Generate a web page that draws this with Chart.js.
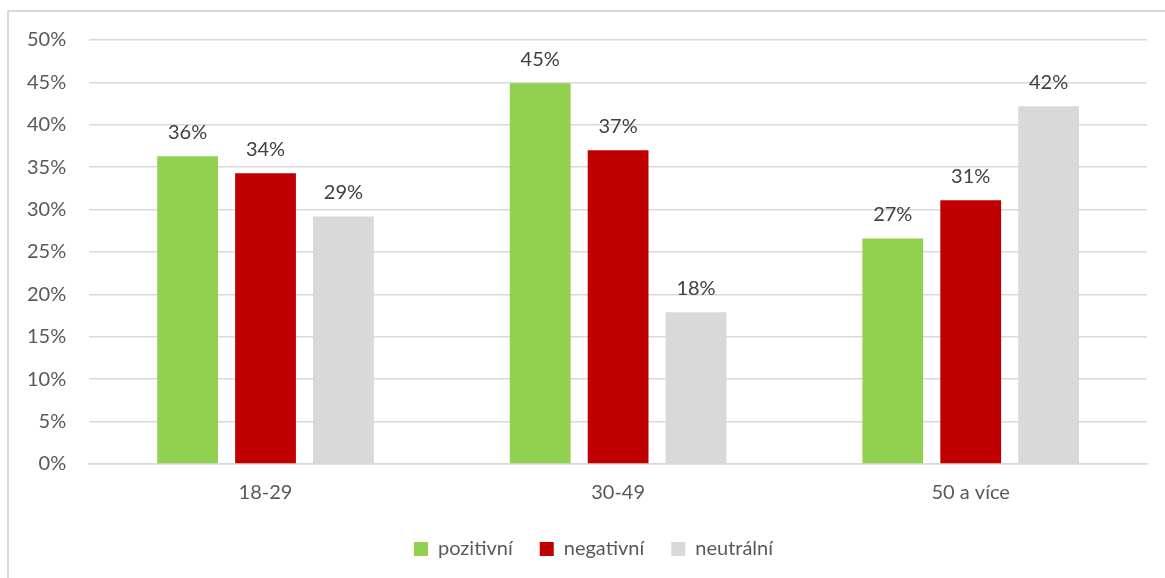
<html><head>
<meta charset="utf-8">
<title>Hodnocení podle věku</title>
<script src="https://cdn.jsdelivr.net/npm/chart.js"></script>
<style>
body { margin: 0; background: #fff; }
#wrap { position: relative; width: 1165px; height: 578px; overflow: hidden; }
#frame { position: absolute; left: 7px; top: 10px; width: 1300px; height: 700px;
    border-left: 2px solid #d9d9d9; border-top: 2px solid #d9d9d9; }
#chart { position: absolute; left: 0; top: 0; }
</style>
</head>
<body>
<div id="wrap">
<div id="frame"></div>
<canvas id="chart" width="1165" height="578"></canvas>
</div>
<script>
const ageGroups = ['18-29', '30-49', '50 a více'];
const positive = [36.3, 44.9, 26.6];
const negative = [34.3, 37.0, 31.1];
const neutral = [29.2, 17.9, 42.2];

const FONT = 'Lato, "Open Sans", sans-serif';

// percentage label above each bar
const barLabels = {
    id: 'barLabels',
    afterDatasetsDraw(chart) {
        const ctx = chart.ctx;
        ctx.save();
        ctx.font = '20px ' + FONT;
        ctx.fillStyle = '#404040';
        ctx.textAlign = 'center';
        ctx.textBaseline = 'middle';
        chart.data.datasets.forEach(function(ds, i) {
            chart.getDatasetMeta(i).data.forEach(function(bar, j) {
                ctx.fillText(Math.round(ds.data[j]) + '%', bar.x, bar.y - 24);
            });
        });
        ctx.restore();
    }
};

// nudge the legend a bit right of the canvas centre
const legendShift = {
    id: 'legendShift',
    afterLayout(chart) {
        if (chart.legend) {
            chart.legend.left += 18;
            chart.legend.right += 18;
        }
    }
};

new Chart(document.getElementById('chart'), {
    type: 'bar',
    data: {
        labels: ageGroups,
        datasets: [
            { label: 'pozitivní', data: positive, backgroundColor: '#92d050' },
            { label: 'negativní', data: negative, backgroundColor: '#c00000' },
            { label: 'neutrální', data: neutral, backgroundColor: '#d9d9d9' }
        ]
    },
    options: {
        responsive: false,
        animation: false,
        categoryPercentage: 0.663,
        barPercentage: 0.78,
        layout: { padding: { left: 4, right: 18, top: 40, bottom: 9 } },
        scales: {
            y: {
                min: 0,
                max: 50,
                border: { display: false },
                grid: { color: '#d9d9d9', lineWidth: 1.5, drawTicks: false },
                ticks: {
                    stepSize: 5,
                    padding: 23,
                    color: '#595959',
                    font: { family: FONT, size: 20 },
                    callback: v => v + '%'
                }
            },
            x: {
                border: { color: '#d9d9d9', width: 1.5 },
                grid: { display: false, drawTicks: false },
                ticks: {
                    padding: 17,
                    color: '#595959',
                    font: { family: FONT, size: 20 }
                },
                // let the category labels sit closer to the legend
                afterFit: s => { s.height -= 10; }
            }
        },
        plugins: {
            tooltip: { enabled: false },
            legend: {
                position: 'bottom',
                labels: {
                    boxWidth: 14,
                    boxHeight: 14,
                    padding: 27,
                    color: '#595959',
                    font: { family: FONT, size: 20 }
                }
            }
        }
    },
    plugins: [barLabels, legendShift]
});
</script>
</body></html>
